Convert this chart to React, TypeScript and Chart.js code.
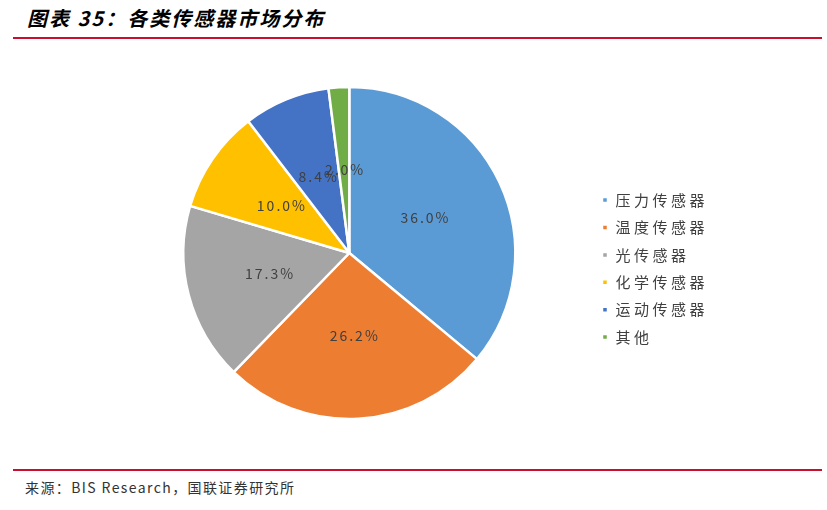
import { useEffect, useRef } from "react"
import { Chart, registerables } from "chart.js"

Chart.register(...registerables)

const categories = ["压力传感器", "温度传感器", "光传感器", "化学传感器", "运动传感器", "其他"]
const shares = [36.0, 26.2, 17.3, 10.0, 8.4, 2.0]
const sliceColors = ["#5B9BD5", "#ED7D31", "#A5A5A5", "#FFC000", "#4472C4", "#70AD47"]

const FONT = "'Noto Sans CJK SC', 'Noto Sans', sans-serif"

// the reference text is set wide, so give the canvas some letter spacing
const wideText = {
  id: "wideText",
  beforeLayout(chart: Chart) {
    ;(chart.ctx as any).letterSpacing = "3.5px"
  },
  beforeDraw(chart: Chart) {
    ;(chart.ctx as any).letterSpacing = "3.5px"
  },
}

// draws the percentage inside each slice, half way out
const sliceLabels = {
  id: "sliceLabels",
  afterDatasetsDraw(chart: Chart) {
    const ctx = chart.ctx
    const meta = chart.getDatasetMeta(0)
    ctx.save()
    ;(ctx as any).letterSpacing = "2px"
    ctx.font = `14px ${FONT}`
    ctx.fillStyle = "#404040"
    ctx.textAlign = "center"
    ctx.textBaseline = "middle"
    meta.data.forEach((arc: any, i) => {
      const { x, y, startAngle, endAngle, outerRadius } = arc.getProps(
        ["x", "y", "startAngle", "endAngle", "outerRadius"],
        true
      )
      const mid = (startAngle + endAngle) / 2
      const r = outerRadius * 0.5
      ctx.fillText(shares[i].toFixed(1) + "%", x + Math.cos(mid) * r + 1, y + Math.sin(mid) * r)
    })
    ctx.restore()
  },
}

function SensorPie() {
  const chartRef = useRef<HTMLCanvasElement>(null)
  const chartInstance = useRef<Chart | null>(null)

  useEffect(() => {
    if (!chartRef.current) return
    if (chartInstance.current) chartInstance.current.destroy()

    chartInstance.current = new Chart(chartRef.current, {
      type: "pie",
      data: {
        labels: categories,
        datasets: [
          {
            data: shares,
            backgroundColor: sliceColors,
            borderColor: "#ffffff",
            borderWidth: 2.5,
          },
        ],
      },
      options: {
        animation: false,
        responsive: true,
        maintainAspectRatio: false,
        radius: 166,
        layout: { padding: 0 },
        plugins: {
          tooltip: { enabled: false },
          legend: {
            position: "right",
            align: "center",
            title: { display: true, text: "", font: { size: 1 }, padding: { top: 30, bottom: 0 } },
            labels: {
              boxWidth: 6,
              boxHeight: 6,
              padding: 12.4,
              color: "#404040",
              font: { size: 15, family: FONT },
            },
          },
        },
      },
      plugins: [wideText, sliceLabels],
    })

    return () => {
      if (chartInstance.current) {
        chartInstance.current.destroy()
        chartInstance.current = null
      }
    }
  }, [])

  return (
    <div style={{ position: "absolute", left: 109, top: 60, width: 609, height: 386 }}>
      <canvas ref={chartRef} />
    </div>
  )
}

export default function App() {
  return (
    <div
      style={{
        position: "absolute",
        left: 0,
        top: 0,
        width: 827,
        height: 510,
        background: "#ffffff",
        fontFamily: FONT,
      }}
    >
      <div
        style={{
          position: "absolute",
          left: 27,
          top: 3,
          fontSize: 20,
          fontWeight: "bold",
          fontStyle: "italic",
          letterSpacing: 2,
          color: "#000",
          whiteSpace: "nowrap",
        }}
      >
        图表 35：各类传感器市场分布
      </div>
      <div style={{ position: "absolute", left: 13, top: 37, width: 809, height: 2, background: "#C8102E" }} />
      <SensorPie />
      <div style={{ position: "absolute", left: 13, top: 469, width: 809, height: 2, background: "#C8102E" }} />
      <div
        style={{
          position: "absolute",
          left: 25,
          top: 477,
          fontSize: 14,
          letterSpacing: 1.4,
          color: "#333",
          whiteSpace: "nowrap",
        }}
      >
        来源：BIS Research，国联证券研究所
      </div>
    </div>
  )
}
